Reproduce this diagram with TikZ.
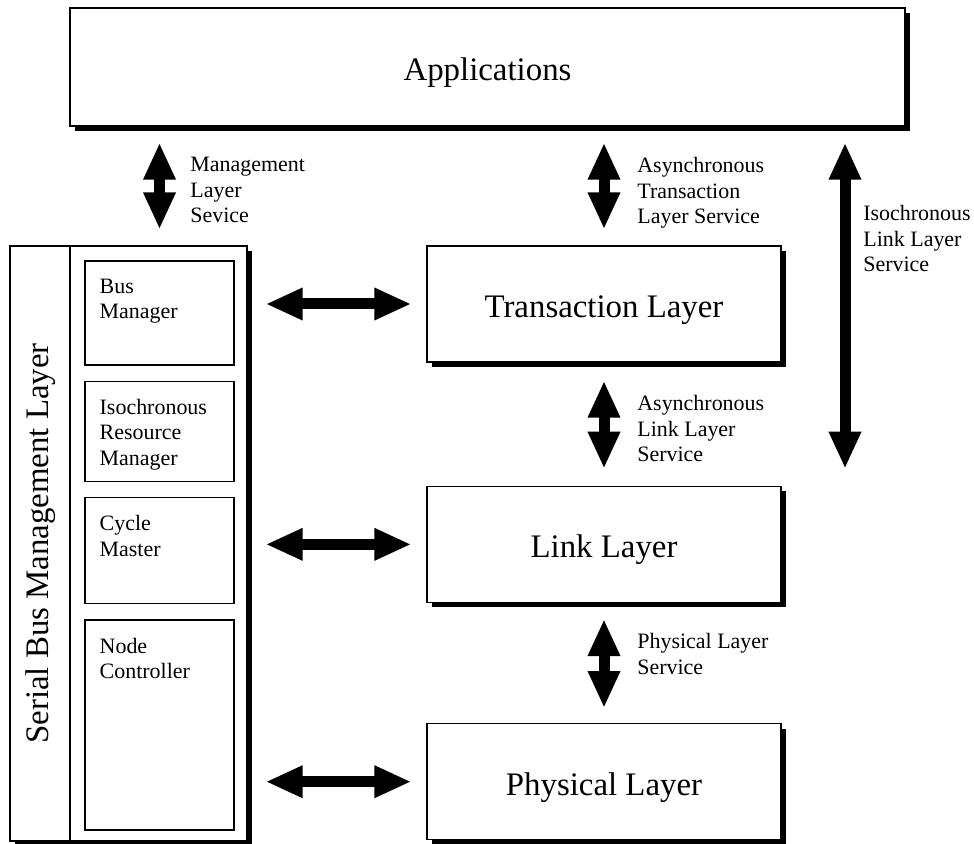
\documentclass[tikz,border=0pt]{standalone}
\usepackage{fontspec}
\setmainfont{Liberation Serif}
\usetikzlibrary{arrows.meta, positioning, shadows}

\begin{document}
\begin{tikzpicture}[
    x=0.02cm, y=-0.02cm,
    layer/.style={rectangle, draw, fill=white, line width=0.8pt, minimum width=7.08cm, minimum height=2.32cm, text height=0.54cm, text depth=0pt, font=\fontsize{18.7}{22}\selectfont, drop shadow={shadow xshift=0.1cm, shadow yshift=-0.1cm, fill=black, opacity=1}},
    unit/.style={rectangle, draw, line width=0.8pt, minimum width=2.98cm, inner sep=0pt},
    lbl/.style={inner sep=0pt, align=left, anchor=north west, font=\fontsize{12.5}{14.5}\selectfont},
    bigarrow/.style={draw, line width=0.22cm, {Triangle[length=0.74cm, width=0.6cm]}-{Triangle[length=0.74cm, width=0.6cm]}}
]
    \useasboundingbox (0,0) rectangle (974,844);

    % Top: Applications
    \node [layer, minimum width=16.7cm, minimum height=2.36cm] (apps) at (487.5,67) {Applications};

    % Right column: protocol layers
    \node [layer] (trans) at (604,304) {Transaction Layer};
    \node [layer, below=2.46cm of trans] (link) {Link Layer};
    \node [layer, below=2.4cm of link] (phys) {Physical Layer};

    % Left column: Serial Bus Management Layer
    \node [layer, minimum width=4.74cm, minimum height=11.9cm] (sbml) at (128.5,543.5) {};
    \coordinate (divcol) at (70,0);
    \draw [line width=0.6pt] (sbml.north -| divcol) -- (sbml.south -| divcol);
    \node [rotate=90, font=\fontsize{18.7}{22}\selectfont] (sbml-txt) at (41,543.5) {Serial Bus Management Layer};

    \node [unit, minimum height=2.08cm] (busmgr) at (159.5,313) {};
    \node [unit, minimum height=2.0cm, below=0.3cm of busmgr] (isomgr) {};
    \node [unit, minimum height=2.12cm, below=0.3cm of isomgr] (cycmst) {};
    \node [unit, minimum height=4.2cm, below=0.3cm of cycmst] (nodectl) {};

    \node [lbl] (busmgr-txt) at ([shift={(15,18)}]busmgr.north west) {Bus\\Manager};
    \node [lbl] (isomgr-txt) at ([shift={(15,18)}]isomgr.north west) {Isochronous\\Resource\\Manager};
    \node [lbl] (cycmst-txt) at ([shift={(15,18)}]cycmst.north west) {Cycle\\Master};
    \node [lbl] (nodectl-txt) at ([shift={(15,18)}]nodectl.north west) {Node\\Controller};

    % Service labels
    \node [lbl] (mgmt-txt) at (190,157) {Management\\Layer\\Sevice};
    \node [lbl] (atrans-txt) at (637,157) {Asynchronous\\Transaction\\Layer Service};
    \node [lbl] (alink-txt) at (637,395) {Asynchronous\\Link Layer\\Service};
    \node [lbl] (phys-txt) at (637,633) {Physical Layer\\Service};
    \node [lbl] (iso-txt) at (863,205) {Isochronous\\Link Layer\\Service};

    % Vertical service arrows
    \coordinate (isocol) at (845,0);
    \path [bigarrow, shorten <=0.32cm, shorten >=0.32cm] (apps.south -| busmgr) -- (sbml.north -| busmgr);
    \path [bigarrow, shorten <=0.32cm, shorten >=0.32cm] (apps.south -| trans) -- (trans.north);
    \path [bigarrow, shorten <=0.32cm, shorten >=0.34cm] (apps.south -| isocol) -- (link.north -| isocol);
    \path [bigarrow, shorten <=0.36cm, shorten >=0.34cm] (trans.south) -- (link.north);
    \path [bigarrow, shorten <=0.32cm, shorten >=0.3cm] (link.south) -- (phys.north);

    % Management to layers
    \path [bigarrow, shorten <=0.36cm, shorten >=0.3cm] (sbml.east |- trans) -- (trans.west);
    \path [bigarrow, shorten <=0.36cm, shorten >=0.3cm] (sbml.east |- link) -- (link.west);
    \path [bigarrow, shorten <=0.36cm, shorten >=0.3cm] (sbml.east |- phys) -- (phys.west);

\end{tikzpicture}
\end{document}
